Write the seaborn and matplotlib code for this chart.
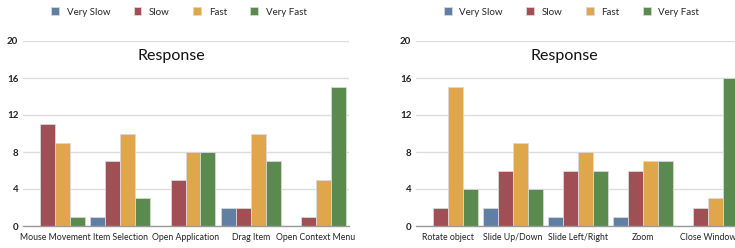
import matplotlib
matplotlib.use("Agg")
import matplotlib.pyplot as plt
import seaborn as sns
import pandas as pd

levels = ["Very Slow", "Slow", "Fast", "Very Fast"]
colors = ["#5f7fa5", "#a04f55", "#e0a64c", "#5b8a4f"]

left_tasks = ["Mouse Movement", "Item Selection", "Open Application", "Drag Item", "Open Context Menu"]
left_very_slow = [0, 1, 0, 2, 0]
left_slow = [11, 7, 5, 2, 1]
left_fast = [9, 10, 8, 10, 5]
left_very_fast = [1, 3, 8, 7, 15]

right_tasks = ["Rotate object", "Slide Up/Down", "Slide Left/Right", "Zoom", "Close Window"]
right_very_slow = [0, 2, 1, 1, 0]
right_slow = [2, 6, 6, 6, 2]
right_fast = [15, 9, 8, 7, 3]
right_very_fast = [4, 4, 6, 7, 16]

title_text = "Response"
yticks = [0, 4, 8, 12, 16, 20]


def make_df(tasks, vs, s, f, vf):
    rows = []
    for series, vals in zip(levels, [vs, s, f, vf]):
        for t, v in zip(tasks, vals):
            rows.append({"task": t, "level": series, "count": v})
    return pd.DataFrame(rows)


sns.set_theme(style="white")
plt.rcParams["font.family"] = ["Lato", "DejaVu Sans"]

fig = plt.figure(figsize=(7.35, 2.48), dpi=100)
W, H = 735, 248


def px_axes(x0, x1, ytop, ybot):
    return fig.add_axes([x0 / W, 1 - ybot / H, (x1 - x0) / W, (ybot - ytop) / H])


ax1 = px_axes(22.5, 348.5, 41, 226)
ax2 = px_axes(415.5, 740.5, 41, 226)

datasets = [
    (ax1, make_df(left_tasks, left_very_slow, left_slow, left_fast, left_very_fast)),
    (ax2, make_df(right_tasks, right_very_slow, right_slow, right_fast, right_very_fast)),
]

for ax, df in datasets:
    sns.barplot(data=df, x="task", y="count", hue="level", hue_order=levels,
                palette=colors, width=0.92, gap=0, ax=ax, linewidth=0.6,
                edgecolor="#d8d8d8", saturation=1)
    ax.set_xlim(-0.5, 4.5)
    ax.set_ylim(0, 20)
    ax.set_yticks(yticks)
    ax.set_yticklabels([str(v) for v in yticks])
    ax.yaxis.grid(True, color="#dddddd", linewidth=1)
    ax.set_axisbelow(True)
    for sp in ["top", "right", "left"]:
        ax.spines[sp].set_visible(False)
    ax.spines["bottom"].set_color("#999999")
    ax.spines["bottom"].set_linewidth(1)
    ax.set_xlabel("")
    ax.set_ylabel("")
    ax.tick_params(axis="y", length=0, pad=3, labelsize=7, labelcolor="#222222")
    ax.tick_params(axis="x", length=0, pad=5, labelsize=6.3, labelcolor="#222222")
    for lbl in ax.get_yticklabels():
        lbl.set_fontweight("bold")
    ax.text(0.457, 0.919, title_text, transform=ax.transAxes, ha="center",
            va="center", fontsize=11.5, color="#111111")
    handles, labels = ax.get_legend_handles_labels()
    ax.legend(handles, labels, ncol=4, loc="center", bbox_to_anchor=(0.48, 1.157),
              frameon=False, fontsize=7, handlelength=0.8, handleheight=0.9,
              handletextpad=0.8, columnspacing=2.4, borderaxespad=0)

fig.savefig("out.png", dpi=100)
